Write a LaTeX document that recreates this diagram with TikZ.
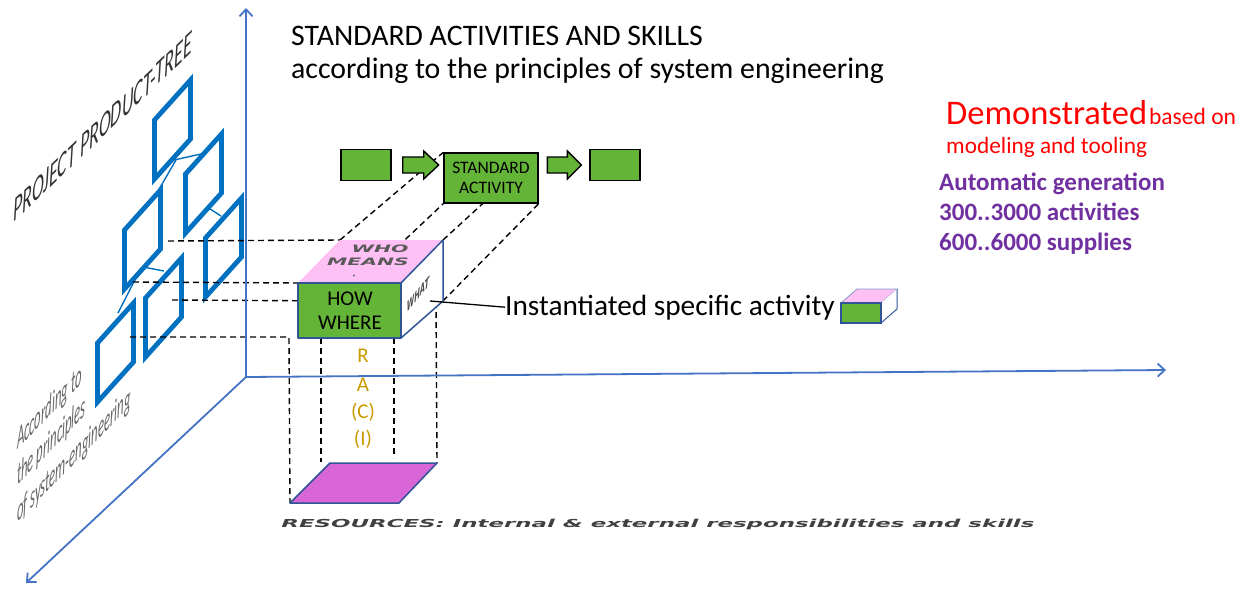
\documentclass[tikz,border=0pt]{standalone}
\usepackage{fontspec}
\setmainfont{Carlito}
\newfontfamily\widefont{DejaVu Sans}
\usetikzlibrary{arrows.meta,calc}
\definecolor{axisblue}{RGB}{68,114,196}
\definecolor{treeblue}{RGB}{0,112,192}
\definecolor{actgreen}{RGB}{99,180,55}
\definecolor{toppink}{RGB}{255,192,245}
\definecolor{resmag}{RGB}{217,102,214}
\definecolor{cubeblue}{RGB}{47,85,151}
\definecolor{racigold}{RGB}{201,155,0}
\definecolor{demored}{RGB}{255,0,0}
\definecolor{autopurple}{RGB}{112,48,160}
\begin{document}
\begin{tikzpicture}[x=1pt,y=-1pt,
  axis/.style={draw=axisblue, line width=1.8pt, -{Straight Barb[length=7pt,width=13pt]}},
  panel/.style={draw=treeblue, line width=4.8pt, line join=miter},
  treelink/.style={draw=treeblue, line width=1.4pt},
  dashline/.style={draw=black, line width=1.4pt, dash pattern=on 6pt off 4pt},
  gbox/.style={draw=black, fill=actgreen, line width=1.4pt, inner sep=0pt},
  barrow/.style={draw=black, fill=actgreen, line width=1.4pt, line join=miter},
  facebox/.style={draw=cubeblue, line width=1.5pt, line join=round},
  plain/.style={inner sep=0pt, anchor=base west},
  treetext/.style={plain, cm={0.41,0.42,0,1,(0,0)}, text=black!60, font=\itshape\fontsize{31}{35}\selectfont},
  raci/.style={inner sep=0pt, anchor=base, text=racigold, font=\fontsize{21}{24}\selectfont},
  purp/.style={inner sep=0pt, anchor=base west, text=autopurple, font=\bfseries\fontsize{25}{29}\selectfont}
]
\useasboundingbox (0,0) rectangle (1254,590);

% ---------- product tree panels ----------
\foreach \L/\T in {152/117, 183/171, 122/227, 203/235, 143/295, 95/340} {
  \draw[panel] (\L+2.5,\T+3) -- ++(36,-40) -- ++(0,59) -- ++(-36,40) -- cycle;
}
\coordinate (ab1) at (174,160); \coordinate (ab2) at (201,154);
\coordinate (ac1) at (176,160); \coordinate (ac2) at (158,191);
\coordinate (bd1) at (207,207); \coordinate (bd2) at (221,216);
\coordinate (ce1) at (143,267); \coordinate (ce2) at (164,271);
\coordinate (cf1) at (141,268); \coordinate (cf2) at (118,313);
\draw[treelink] (ab1) -- (ab2);
\draw[treelink] (ac1) -- (ac2);
\draw[treelink] (bd1) -- (bd2);
\draw[treelink] (ce1) -- (ce2);
\draw[treelink] (cf1) -- (cf2);

% tree labels
\node[plain, cm={0.53,0.505,0,1,(0,0)}, text=black!80, font=\itshape\fontsize{34}{40}\selectfont] (ptree) at (13,223) {PROJECT PRODUCT-TREE};
\node[treetext] (acc1) at (17,450) {According to};
\node[treetext] (acc2) at (17,486) {the principles};
\node[treetext] (acc3) at (17,523) {of system-engineering};

% ---------- geometry coordinates ----------
\coordinate (cFTL) at (298,283); \coordinate (cFTR) at (401,283);
\coordinate (cFBR) at (401,338); \coordinate (cFBL) at (298,338);
\coordinate (cBTL) at (340,240); \coordinate (cBTR) at (443,240);
\coordinate (cBBR) at (443,301); \coordinate (cBBL) at (340,301);
\coordinate (rFL) at (290,503); \coordinate (rFR) at (399,503);
\coordinate (rBR) at (437,463); \coordinate (rBL) at (330,463);

\node[gbox, minimum width=94pt, minimum height=50pt, align=center,
      font=\fontsize{17.5}{20.5}\selectfont] (sa) at (491,178) {STANDARD\\ACTIVITY};

% ---------- dashed projection lines ----------
\coordinate (h1s) at (168,241);
\coordinate (h2s) at (133,282);
\coordinate (h3s) at (172,300);
\coordinate (h4s) at (130,337); \coordinate (h4e) at (289,337);
\coordinate (v2s) at (321,338); \coordinate (v2e) at (321,462);
\coordinate (v3s) at (394,338); \coordinate (v3e) at (394,458);
\coordinate (v4s) at (436,302);
\draw[dashline] (h1s) -- (cBTL);
\draw[dashline] (h2s) -- (cFTL);
\draw[dashline] (h3s) -- (cBBL);
\draw[dashline] (h4s) -- (h4e) -- (rFL);
\draw[dashline] (v2s) -- (v2e);
\draw[dashline] (v3s) -- (v3e);
\draw[dashline] (v4s) -- (rBR);
\draw[dashline] (cBTL) -- (sa.north west);
\draw[dashline] (cBBL) -- (sa.south west);
\draw[dashline] (cBTR) -- (sa.north east);
\draw[dashline] (cBBR) -- (sa.south east);

% ---------- axes ----------
\coordinate (O) at (246,377);
\coordinate (Ytip) at (246,8);
\coordinate (Xtip) at (1166,370);
\coordinate (Ztip) at (26,583);
\draw[axis] (O) -- (Ytip);
\draw[axis] (O) -- (Xtip);
\draw[axis] (O) -- (Ztip);

% ---------- standard activity row (box redrawn on top of the dashes) ----------
\node[gbox, minimum width=94pt, minimum height=50pt, align=center,
      font=\fontsize{17.5}{20.5}\selectfont] at (sa) {STANDARD\\ACTIVITY};
\node[gbox, minimum width=50pt, minimum height=31pt] (b1) at (366,165) {};
\node[gbox, minimum width=50pt, minimum height=31pt] (b3) at (615,165) {};
\draw[barrow] (b1.east) ++(11,-8) -- ++(21,0) -- ++(0,-6) -- ++(15,14) -- ++(-15,14) -- ++(0,-6) -- ++(-21,0) -- cycle;
\draw[barrow] (b3.west) ++(-42,-8) -- ++(20,0) -- ++(0,-6) -- ++(14,14) -- ++(-14,14) -- ++(0,-6) -- ++(-20,0) -- cycle;

% ---------- resources plane ----------
\fill[resmag] (rFL) -- (rFR) -- (rBR) -- (rBL) -- cycle;
\draw[facebox] (rFL) -- (rFR) -- (rBR) -- (rBL) -- cycle;

% ---------- cube ----------
\fill[toppink] (cFTL) -- (cBTL) -- (cBTR) -- (cFTR) -- cycle;
\fill[white] (cFTR) -- (cBTR) -- (cBBR) -- (cFBR) -- cycle;
\draw[facebox] (cFTR) -- (cBTR) -- (cBBR) -- (cFBR);
\fill[actgreen] (cFTL) rectangle (cFBR);
\draw[facebox] (cFTL) rectangle (cFBR);
\node[inner sep=0pt, align=center, font=\fontsize{21}{24}\selectfont] (how) at (350,311) {HOW\\WHERE};
\node[inner sep=0pt, xscale=1.7, yscale=0.85, text=black!65, font=\widefont\bfseries\itshape\fontsize{12}{12}\selectfont] (who) at (380,249) {WHO};
\node[inner sep=0pt, xscale=1.7, yscale=0.85, text=black!65, font=\widefont\bfseries\itshape\fontsize{12}{12}\selectfont] (means) at (368,262) {MEANS};
\fill[black!60] (354,275.5) circle (1.2pt);
\node[inner sep=0pt, cm={0.42,0.5,0,0.85,(0,0)}, text=black!70, font=\widefont\bfseries\itshape\fontsize{16}{16}\selectfont] (what) at (418,294) {WHAT};

% RACI
\node[raci] (rr) at (363,362) {R};
\node[raci] (ra) at (363,391) {A};
\node[raci] (rc) at (363,418) {(C)};
\node[raci] (ri) at (363,445) {(I)};

% resources label
\node[plain, xscale=2.08, text=black!75, font=\widefont\bfseries\itshape\fontsize{11}{11}\selectfont] (res) at (281,527) {RESOURCES: Internal \& external responsibilities and skills};

% ---------- instantiated activity ----------
\node[plain, font=\fontsize{29.3}{34}\selectfont] (inst) at (505,315) {Instantiated specific activity};
\coordinate (whatpt) at (430,301);
\draw[line width=1.3pt] (whatpt) -- (inst.west);
\coordinate (sFTL) at (841,303); \coordinate (sFBR) at (881,323);
\coordinate (sFTR) at (881,303); \coordinate (sFBL) at (841,323);
\coordinate (sBTL) at (857,289); \coordinate (sBTR) at (897,289);
\coordinate (sBBR) at (897,309);
\fill[toppink] (sFTL) -- (sBTL) -- (sBTR) -- (sFTR) -- cycle;
\draw[cubeblue!60, line width=0.8pt] (sFTL) -- (sBTL) -- (sBTR) -- (sFTR);
\fill[white] (sFTR) -- (sBTR) -- (sBBR) -- (sFBR) -- cycle;
\draw[cubeblue, line width=1pt] (sBTR) -- (sBBR) -- (sFBR);
\fill[actgreen] (sFTL) rectangle (sFBR);
\draw[cubeblue, line width=1.2pt] (sFTL) rectangle (sFBR);

% ---------- titles ----------
\node[plain, font=\fontsize{29.8}{34}\selectfont] (t1) at (291,45) {STANDARD ACTIVITIES AND SKILLS};
\node[plain, font=\fontsize{29.8}{34}\selectfont] (t2) at (291,78) {according to the principles of system engineering};

\node[plain, text=demored] (demo) at (946,124) {\fontsize{34.5}{38}\selectfont Demonstrated\hspace{2pt}\fontsize{23.5}{27}\selectfont based on};
\node[plain, text=demored, font=\fontsize{23.3}{27}\selectfont] (model) at (946,153) {modeling and tooling};
\node[purp] (p1) at (939,190) {Automatic generation};
\node[purp] (p2) at (939,220) {300..3000 activities};
\node[purp] (p3) at (939,250) {600..6000 supplies};
\end{tikzpicture}
\end{document}
